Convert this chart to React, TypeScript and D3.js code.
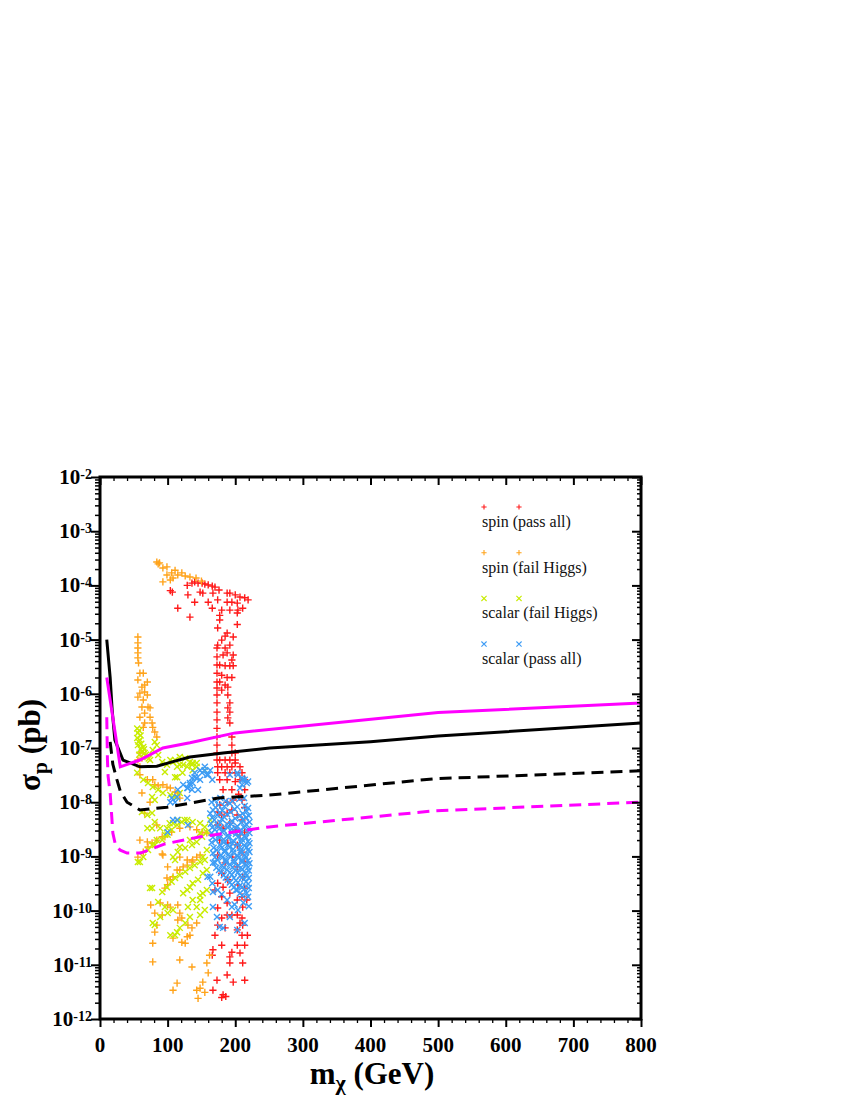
import * as d3 from "d3";
import { useEffect, useRef } from "react";

const plot = { left: 100, right: 641, top: 477, bottom: 1019 };

const massTicks = [0, 100, 200, 300, 400, 500, 600, 700, 800];
const sigmaExponents = [-2, -3, -4, -5, -6, -7, -8, -9, -10, -11, -12];
const legendLabels = ["spin (pass all)", "spin (fail Higgs)", "scalar (fail Higgs)", "scalar (pass all)"];
const seriesColors = ["#ff1a1a", "#ffa31a", "#c8ec00", "#3d9cf5"];

// [mass GeV, sigma pb]
const limitSolidBlack = [
  [10, 1e-5], [15, 2e-6], [18, 5e-7], [22, 1.4e-7], [34, 6e-8], [59, 4.5e-8], [84, 4.6e-8],
  [108, 5.6e-8], [133, 6.8e-8], [182, 8.1e-8], [251, 1e-7], [400, 1.31e-7], [500, 1.66e-7], [800, 2.9e-7],
];
const limitSolidMagenta = [
  [10, 2e-6], [30, 4.5e-8], [59, 6e-8], [93, 1e-7], [133, 1.25e-7], [200, 1.9e-7], [500, 4.5e-7], [800, 6.8e-7],
];
const limitDashedBlack = [
  [15, 1.3e-7], [19, 5e-8], [25, 2.6e-8], [30, 1.6e-8], [40, 1e-8], [59, 7.2e-9], [99, 8.1e-9],
  [133, 9.6e-9], [175, 1.2e-8], [250, 1.35e-8], [493, 2.7e-8], [800, 3.8e-8],
];
const limitDashedMagenta = [
  [10, 3.7e-7], [11, 6e-8], [12, 3e-8], [15, 1.5e-8], [19, 2.7e-9], [23, 1.6e-9], [30, 1.3e-9], [40, 1.15e-9],
  [60, 1.15e-9], [96, 1.7e-9], [148, 2.3e-9], [250, 3.5e-9], [493, 6.9e-9], [800, 1e-8],
];

const spinPassAll = [
  [104, 8e-5], [107, 7.5e-5], [115, 3.8e-5], [133, 2.6e-5], [129, 1.0e-4], [136, 1.1e-4], [140, 1.16e-4],
  [145, 1.1e-4], [151, 1.1e-4], [155, 1.06e-4], [160, 1.02e-4], [166, 9.7e-5], [170, 9.3e-5], [176, 8.2e-5],
  [130, 6.7e-5], [148, 7.5e-5], [152, 7.2e-5], [167, 7.2e-5], [188, 7.2e-5], [192, 7.2e-5], [200, 6.7e-5],
  [207, 6.1e-5], [214, 5.9e-5], [219, 5.4e-5], [140, 4.9e-5], [160, 4.9e-5], [174, 5.4e-5], [188, 4.9e-5],
  [195, 4.9e-5], [203, 4.7e-5], [166, 3.8e-5], [180, 3.5e-5], [192, 3.5e-5], [204, 3.5e-5], [211, 3.8e-5],
  [177, 2.8e-5], [203, 3.1e-5], [177, 2.3e-5], [203, 1.9e-5], [174, 1.64e-5], [188, 1.32e-5], [185, 1.16e-5],
  [197, 1.12e-5], [180, 9.8e-6], [174, 7.9e-6], [192, 7.9e-6], [185, 7.0e-6], [173, 7.0e-6], [173, 4.8e-6],
  [182, 5.2e-6], [188, 5.7e-6], [197, 5.2e-6], [195, 4.2e-6], [173, 3.4e-6], [177, 3.4e-6], [185, 3.3e-6],
  [192, 3.3e-6], [197, 3.3e-6], [173, 2.4e-6], [180, 2.2e-6], [188, 2.0e-6], [195, 2.0e-6], [173, 1.65e-6],
  [177, 1.65e-6], [185, 1.45e-6], [189, 1.33e-6], [173, 1.28e-6], [180, 1.17e-6], [173, 9.5e-7], [189, 9.5e-7],
  [192, 6.8e-7], [189, 5.5e-7], [192, 4.6e-7], [189, 3.6e-7], [192, 2.9e-7], [173, 6.8e-7], [173, 4.6e-7],
  [173, 3.3e-7], [173, 2.3e-7], [173, 1.6e-7], [173, 1.13e-7], [173, 8.1e-8], [173, 6.0e-8], [195, 1.6e-7],
  [195, 1.13e-7], [195, 8.1e-8], [200, 8.1e-8], [174, 4.5e-8], [180, 4.5e-8], [188, 4.5e-8], [195, 4.5e-8],
  [200, 5.3e-8], [174, 3.5e-8], [185, 3.5e-8], [192, 3.5e-8], [200, 3.5e-8], [177, 2.6e-8], [188, 2.6e-8],
  [200, 2.4e-8], [182, 1.7e-8], [195, 1.7e-8], [177, 8.9e-9], [188, 1.0e-8], [197, 1.1e-8], [174, 6.6e-9],
  [177, 6e-8], [185, 6e-8], [192, 6e-8], [200, 6e-8], [207, 4.5e-8], [210, 3.5e-8], [214, 2.6e-8],
  [207, 2.6e-8], [214, 1.7e-8], [205, 1.4e-8], [210, 1.1e-8], [214, 8e-9],
  [180, 5.8e-9], [188, 6.3e-9], [195, 7.2e-9], [203, 5.8e-9], [210, 4.7e-9], [174, 3.8e-9], [182, 3.3e-9],
  [192, 4.1e-9], [200, 3.1e-9], [207, 2.5e-9], [214, 2.8e-9], [177, 2.0e-9], [189, 1.77e-9], [203, 1.62e-9],
  [174, 1.06e-9], [196, 9.7e-10], [210, 1.2e-9], [185, 7.6e-10], [203, 6.4e-10], [214, 7.9e-10],
  [180, 4.9e-10], [174, 3.2e-10], [182, 2.7e-10], [170, 2.4e-10], [192, 2.1e-10], [180, 1.8e-10],
  [203, 1.57e-10], [188, 1.38e-10], [211, 1.16e-10], [189, 3.7e-10], [211, 4.2e-10], [204, 3.0e-10],
  [214, 2.6e-10], [210, 1.8e-10], [217, 1.57e-10], [174, 1.12e-10], [188, 8.3e-11], [195, 8.3e-11],
  [203, 8.3e-11], [210, 7.3e-11], [180, 7.3e-11], [174, 5.4e-11], [207, 5.9e-11], [211, 5.4e-11],
  [170, 3.5e-11], [185, 4.8e-11], [203, 4.4e-11], [210, 3.5e-11], [218, 3.5e-11], [180, 2.3e-11],
  [203, 2.3e-11], [214, 2.3e-11], [167, 1.9e-11], [195, 1.7e-11], [207, 1.65e-11], [166, 1.5e-11],
  [192, 1.4e-11], [192, 1.08e-11], [211, 1.08e-11], [188, 6.5e-12], [214, 5.2e-12], [197, 4.8e-12],
  [173, 5.2e-12], [167, 3.4e-12], [182, 2.8e-12], [180, 2.5e-12], [186, 2.6e-12],
];

const spinFailHiggs = [
  [84, 2.7e-4], [86, 2.5e-4], [88, 2.6e-4], [93, 2.1e-4], [99, 2.2e-4], [106, 1.7e-4], [111, 1.9e-4],
  [115, 1.56e-4], [121, 1.7e-4], [126, 1.49e-4], [133, 1.43e-4], [142, 1.37e-4], [150, 1.2e-4], [99, 1.56e-4],
  [104, 1.26e-4], [108, 1.37e-4], [93, 1.16e-4],
  [56, 1.12e-5], [56, 8.7e-6], [56, 7.0e-6], [56, 5.7e-6], [56, 4.6e-6], [57, 3.7e-6], [59, 2.4e-6],
  [64, 2.4e-6], [56, 1.8e-6], [70, 1.65e-6], [62, 1.33e-6], [66, 1.45e-6], [66, 1.08e-6], [59, 1.03e-6],
  [56, 8.7e-7], [64, 7.7e-7], [70, 9.5e-7], [62, 5.7e-7], [71, 5.7e-7], [74, 5.5e-7], [66, 4.4e-7],
  [74, 3.7e-7], [59, 3.7e-7], [77, 2.9e-7], [78, 2.4e-7], [64, 2.4e-7], [66, 2.9e-7], [81, 1.97e-7],
  [84, 1.6e-7], [59, 8.1e-8], [62, 6.5e-8], [56, 6.0e-8], [59, 4.5e-8],
  [59, 3.2e-8], [70, 2.6e-8], [78, 2.6e-8], [81, 2.1e-8], [86, 2.0e-8], [93, 2.1e-8], [99, 1.9e-8],
  [104, 1.83e-8], [111, 1.54e-8], [115, 1.48e-8], [118, 1.19e-8], [62, 1.48e-8], [74, 1.0e-8], [66, 6.3e-9],
  [84, 3.8e-9], [59, 2.0e-9], [70, 1.85e-9], [77, 1.77e-9], [84, 2.0e-9], [92, 2.3e-9], [96, 2.3e-9],
  [106, 2.8e-9], [118, 3.3e-9], [133, 3.5e-9], [143, 3.1e-9], [151, 2.8e-9], [158, 2.7e-9],
  [92, 1.11e-9], [100, 6.4e-10], [118, 9.7e-10], [129, 8.6e-10], [137, 8.6e-10], [143, 9.7e-10],
  [148, 1.06e-9], [114, 5.6e-10], [123, 6.4e-10], [108, 4.2e-10], [104, 3.7e-10], [96, 2.6e-10],
  [100, 3.0e-10], [56, 9.7e-10], [64, 1.2e-9], [71, 1.49e-9], [93, 1.06e-9], [99, 4.0e-10],
  [118, 5.6e-10], [129, 6.9e-10], [136, 7.9e-10],
  [75, 1.27e-10], [89, 1.38e-10], [100, 1.27e-10], [115, 1.27e-10], [92, 8.3e-11], [118, 9.0e-11],
  [121, 7.3e-11], [84, 5.4e-11], [115, 6.7e-11], [130, 5.4e-11], [136, 4.8e-11], [143, 5.9e-11],
  [133, 3.5e-11], [129, 3.3e-11], [78, 2.5e-11], [126, 2.5e-11], [81, 4.0e-11], [108, 3.1e-11],
  [121, 2.6e-11], [78, 1.13e-11], [104, 1.16e-10], [81, 9.0e-11],
  [118, 1.23e-11], [162, 1.5e-11], [158, 1.08e-11], [136, 9.1e-12], [160, 7.1e-12], [114, 4.6e-12],
  [152, 4.8e-12], [148, 3.7e-12], [108, 3.4e-12], [145, 2.4e-12], [155, 3.1e-12], [143, 3.4e-12],
];

const scalarFailHiggs = [
  [55, 2.3e-7], [56, 1.89e-7], [55, 1.53e-7], [59, 1.4e-7], [56, 1.13e-7], [64, 1.04e-7], [62, 8.4e-8],
  [58, 2.1e-7], [60, 1.7e-7], [57, 1.3e-7], [61, 1.2e-7], [65, 9.5e-8], [68, 7.5e-8], [72, 6.4e-8],
  [60, 9.5e-8], [58, 7.5e-8],
  [66, 8.1e-8], [70, 6.8e-8], [74, 6.0e-8], [81, 1.29e-7], [84, 1.13e-7], [78, 9.2e-8], [86, 7.4e-8],
  [92, 5.5e-8], [99, 4.9e-8], [104, 6.0e-8], [111, 6.0e-8], [118, 6.8e-8], [126, 6.5e-8], [133, 5.5e-8],
  [137, 5.3e-8], [143, 4.5e-8], [114, 4.5e-8], [123, 4.9e-8], [96, 3.6e-8], [111, 2.9e-8],
  [55, 3.5e-8], [64, 2.6e-8], [71, 2.26e-8], [78, 1.9e-8], [86, 1.7e-8], [93, 1.48e-8], [104, 1.36e-8],
  [111, 1.25e-8], [118, 1.48e-8], [77, 1.25e-8], [81, 1.1e-8], [62, 6.6e-9], [70, 5.8e-9], [77, 6.3e-9],
  [108, 5.5e-8], [118, 4.9e-8], [129, 4.5e-8], [136, 4.9e-8], [143, 5.3e-8], [155, 3.9e-8], [137, 3.9e-8],
  [114, 2.9e-8], [122, 3.5e-8],
  [56, 7.9e-10], [59, 7.9e-10], [64, 9.7e-10], [71, 1.31e-9], [77, 1.62e-9], [81, 1.62e-9], [84, 2.0e-9],
  [92, 2.0e-9], [96, 2.5e-9], [100, 2.5e-9], [106, 3.1e-9], [108, 4.1e-9], [114, 3.8e-9], [121, 4.3e-9],
  [129, 4.7e-9], [137, 4.3e-9], [148, 4.1e-9], [155, 3.5e-9], [70, 3.3e-9], [77, 3.3e-9], [89, 3.3e-9],
  [81, 4.3e-9], [103, 4.1e-9], [115, 4.7e-9], [125, 4.7e-9], [99, 3.3e-9], [163, 4.7e-9],
  [108, 9.7e-10], [115, 1.2e-9], [126, 1.43e-9], [136, 1.62e-9], [143, 1.85e-9], [151, 2.3e-9],
  [158, 2.8e-9], [111, 8.6e-10], [118, 1.49e-9], [133, 2.0e-9], [148, 2.7e-9], [152, 9.7e-10], [158, 1.31e-9],
  [74, 2.6e-10], [99, 2.7e-10], [106, 3.4e-10], [111, 4.0e-10], [118, 4.5e-10], [126, 5.2e-10],
  [133, 6.1e-10], [140, 6.9e-10], [148, 7.9e-10], [155, 8.6e-10], [123, 2.1e-10], [129, 2.4e-10],
  [133, 2.7e-10], [137, 3.2e-10], [145, 3.7e-10], [152, 4.9e-10], [158, 5.6e-10],
  [81, 5.4e-11], [89, 7.6e-11], [100, 9.0e-11], [108, 1.03e-10], [143, 1.16e-10], [148, 1.57e-10],
  [152, 2.1e-10], [158, 2.4e-10], [114, 4.0e-11], [118, 4.8e-11], [133, 7.6e-11], [126, 5.9e-11],
  [104, 3.5e-11], [96, 1.16e-10], [86, 1.44e-10], [92, 2.2e-10], [77, 2.6e-10], [78, 5.9e-11],
  [130, 1.16e-10], [137, 1.57e-10], [148, 1.9e-10], [111, 3.5e-11], [148, 8.3e-11], [155, 1.03e-10],
];

const scalarPassAll = [
  [133, 2.26e-8], [143, 2.8e-8], [151, 3.5e-8], [155, 3.9e-8], [160, 3.2e-8], [129, 1.83e-8], [136, 1.7e-8],
  [148, 2.6e-8], [137, 2.26e-8], [166, 2.6e-8], [114, 1.25e-8], [104, 1.0e-8], [111, 1.0e-8], [123, 2.1e-8],
  [114, 4.7e-9], [130, 3.8e-9], [211, 2.6e-8], [217, 2.26e-8], [210, 2.8e-8], [203, 3.5e-8], [192, 3.2e-8],
  [207, 1.83e-8], [140, 3.5e-8], [148, 3.9e-8], [155, 4.5e-8], [163, 3.9e-8], [158, 3.2e-8], [136, 2.8e-8],
  [130, 1.83e-8], [145, 1.7e-8], [204, 3.2e-8], [214, 2.6e-8], [219, 2.4e-8], [210, 2.1e-8], [129, 1.19e-8],
  [115, 1.7e-8], [106, 1.19e-8], [100, 2.8e-9], [108, 4.7e-9], [133, 2.1e-8], [140, 2.9e-8],
  [170, 1.1e-8], [186, 1.05e-8], [206, 1.15e-8], [175, 8.9e-9], [192, 9.5e-9], [214, 8.5e-9],
  [167, 7.2e-9], [181, 7.0e-9], [199, 7.5e-9], [217, 6.8e-9], [173, 5.8e-9], [188, 6.0e-9], [207, 5.6e-9],
  [169, 4.7e-9], [180, 4.9e-9], [195, 4.5e-9], [211, 4.8e-9], [174, 3.8e-9], [188, 3.9e-9], [203, 3.6e-9],
  [216, 3.9e-9], [170, 3.1e-9], [183, 3.0e-9], [195, 3.2e-9], [207, 3.0e-9], [219, 3.2e-9], [176, 2.5e-9],
  [189, 2.45e-9], [201, 2.6e-9], [214, 2.4e-9], [171, 2.0e-9], [183, 2.05e-9], [197, 1.95e-9], [210, 2.05e-9],
  [219, 1.9e-9], [177, 1.62e-9], [189, 1.6e-9], [203, 1.65e-9], [214, 1.58e-9], [173, 1.31e-9], [185, 1.3e-9],
  [197, 1.35e-9], [208, 1.28e-9], [219, 1.33e-9], [179, 1.06e-9], [190, 1.08e-9], [203, 1.04e-9],
  [214, 1.07e-9], [174, 8.6e-10], [186, 8.8e-10], [198, 8.5e-10], [210, 8.7e-10], [219, 8.4e-10],
  [180, 6.9e-10], [192, 7.1e-10], [204, 6.8e-10], [216, 7.0e-10], [176, 5.6e-10], [188, 5.7e-10],
  [200, 5.5e-10], [211, 5.8e-10], [220, 5.5e-10], [183, 4.5e-10], [195, 4.6e-10], [207, 4.4e-10],
  [217, 4.5e-10], [189, 3.7e-10], [201, 3.6e-10], [213, 3.8e-10], [195, 3.0e-10], [207, 2.9e-10],
  [219, 3.1e-10], [201, 2.4e-10], [213, 2.5e-10],
  [165, 1.0e-8], [178, 1.2e-8], [196, 1.05e-8], [213, 1.2e-8], [171, 8.0e-9], [184, 8.4e-9], [203, 8.2e-9],
  [219, 7.8e-9], [163, 6.2e-9], [177, 6.4e-9], [193, 6.6e-9], [211, 6.2e-9], [220, 5.6e-9], [166, 5.2e-9],
  [184, 5.3e-9], [200, 5.0e-9], [216, 5.2e-9], [164, 4.0e-9], [178, 4.2e-9], [194, 3.9e-9], [209, 4.2e-9],
  [221, 4.3e-9], [166, 3.4e-9], [177, 3.3e-9], [189, 3.4e-9], [201, 3.35e-9], [213, 3.4e-9], [165, 2.7e-9],
  [181, 2.8e-9], [195, 2.75e-9], [208, 2.7e-9], [221, 2.7e-9], [167, 2.25e-9], [177, 2.2e-9], [190, 2.2e-9],
  [204, 2.25e-9], [216, 2.2e-9], [165, 1.8e-9], [183, 1.8e-9], [196, 1.75e-9], [209, 1.8e-9], [221, 1.75e-9],
  [168, 1.45e-9], [180, 1.45e-9], [192, 1.47e-9], [207, 1.45e-9], [217, 1.48e-9], [167, 1.15e-9],
  [184, 1.2e-9], [197, 1.18e-9], [209, 1.17e-9], [221, 1.2e-9], [170, 9.6e-10], [181, 9.5e-10],
  [193, 9.7e-10], [205, 9.4e-10], [216, 9.6e-10], [170, 7.7e-10], [186, 7.8e-10], [198, 7.6e-10],
  [210, 7.8e-10], [221, 7.5e-10], [172, 6.2e-10], [183, 6.2e-10], [196, 6.3e-10], [208, 6.2e-10],
  [219, 6.3e-10], [179, 5.0e-10], [192, 5.0e-10], [204, 5.1e-10], [215, 4.9e-10], [186, 4.1e-10],
  [198, 4.0e-10], [210, 4.1e-10], [220, 4.0e-10], [192, 3.3e-10], [204, 3.3e-10], [216, 3.4e-10],
  [198, 2.7e-10], [210, 2.7e-10], [220, 2.6e-10], [207, 2.1e-10], [180, 2.0e-10], [219, 1.8e-10],
  [212, 1.4e-10], [199, 1.3e-10], [220, 1.2e-10],
  [163, 4.2e-10], [166, 3.2e-10], [174, 2.4e-10], [188, 1.57e-10], [195, 1.16e-10], [204, 1.03e-10],
  [182, 4.8e-11], [177, 5.0e-11], [214, 5.9e-11], [167, 2.2e-10], [167, 7.6e-10], [159, 4.2e-10],
  [192, 7.6e-11], [203, 4.4e-11], [173, 7.6e-11], [167, 1.16e-10], [203, 2.4e-10], [210, 1.9e-10],
  [217, 2.1e-10],
];

const pointSeries = [
  { key: "spinPass", data: spinPassAll, marker: "plus", color: seriesColors[0] },
  { key: "spinFail", data: spinFailHiggs, marker: "plus", color: seriesColors[1] },
  { key: "scalarFail", data: scalarFailHiggs, marker: "cross", color: seriesColors[2] },
  { key: "scalarPass", data: scalarPassAll, marker: "cross", color: seriesColors[3] },
];

const markerPath = (kind, r) =>
  kind === "plus"
    ? `M${-r},0H${r}M0,${-r}V${r}`
    : `M${-r},${-r}L${r},${r}M${-r},${r}L${r},${-r}`;

const App = () => {
  const svgRef = useRef(null);

  useEffect(() => {
    const svg = d3.select(svgRef.current);
    svg.selectAll("*").remove();

    const x = d3.scaleLinear().domain([0, 800]).range([plot.left, plot.right]);
    const y = d3.scaleLog().domain([1e-12, 1e-2]).range([plot.bottom, plot.top]);

    const decades = sigmaExponents.map((e) => Math.pow(10, e));
    const minorY = [];
    sigmaExponents.slice(1).forEach((e) => {
      for (let m = 2; m <= 9; m++) minorY.push(m * Math.pow(10, e));
    });
    const minorX = d3.range(0, 801, 20).filter((v) => v % 100 !== 0);

    // scatter points
    pointSeries.forEach((s) => {
      svg
        .append("g")
        .attr("class", s.key)
        .selectAll("path")
        .data(s.data)
        .join("path")
        .attr("transform", (d) => `translate(${x(d[0])},${y(d[1])})`)
        .attr("d", markerPath(s.marker, s.marker === "plus" ? 3.6 : 3))
        .attr("fill", "none")
        .attr("stroke", s.color)
        .attr("stroke-width", 1.4);
    });

    // limit curves
    const line = d3
      .line()
      .x((d) => x(d[0]))
      .y((d) => y(d[1]));
    const curves = [
      { data: limitSolidBlack, color: "#000", dash: null },
      { data: limitSolidMagenta, color: "#ff00ff", dash: null },
      { data: limitDashedBlack, color: "#000", dash: "12,7" },
      { data: limitDashedMagenta, color: "#ff00ff", dash: "12,7" },
    ];
    curves.forEach((c) => {
      svg
        .append("path")
        .attr("d", line(c.data))
        .attr("fill", "none")
        .attr("stroke", c.color)
        .attr("stroke-width", 3)
        .attr("stroke-dasharray", c.dash);
    });

    // axes: ticks out on left/bottom, in on top/right
    const noLabel = () => "";
    const strip = (g) => g.select(".domain").remove();
    const addAxis = (axis, tx, ty, w) =>
      svg
        .append("g")
        .attr("transform", `translate(${tx},${ty})`)
        .call(axis.tickFormat(noLabel))
        .call(strip)
        .call((g) => g.selectAll("line").attr("stroke-width", w));

    addAxis(d3.axisLeft(y).tickValues(decades).tickSize(9), plot.left, 0, 2);
    addAxis(d3.axisLeft(y).tickValues(minorY).tickSize(5), plot.left, 0, 1.5);
    addAxis(d3.axisLeft(y).tickValues(decades).tickSize(9), plot.right, 0, 2);
    addAxis(d3.axisLeft(y).tickValues(minorY).tickSize(4), plot.right, 0, 1.5);
    addAxis(d3.axisBottom(x).tickValues(massTicks).tickSize(8), 0, plot.bottom, 2);
    addAxis(d3.axisBottom(x).tickValues(minorX).tickSize(4), 0, plot.bottom, 1.3);
    addAxis(d3.axisBottom(x).tickValues(massTicks).tickSize(8), 0, plot.top, 2);
    addAxis(d3.axisBottom(x).tickValues(minorX).tickSize(4), 0, plot.top, 1.3);

    svg
      .append("rect")
      .attr("x", plot.left)
      .attr("y", plot.top)
      .attr("width", plot.right - plot.left)
      .attr("height", plot.bottom - plot.top)
      .attr("fill", "none")
      .attr("stroke", "#000")
      .attr("stroke-width", 3);

    const font = "'Liberation Serif', 'Times New Roman', serif";

    // x tick labels
    svg
      .append("g")
      .selectAll("text")
      .data(massTicks)
      .join("text")
      .attr("x", (d) => x(d))
      .attr("y", plot.bottom + 33)
      .attr("text-anchor", "middle")
      .attr("font-family", font)
      .attr("font-weight", "bold")
      .attr("font-size", 21)
      .text((d) => d);

    // y tick labels 10^n
    svg
      .append("g")
      .selectAll("text")
      .data(sigmaExponents)
      .join("text")
      .attr("x", 92)
      .attr("y", (d) => y(Math.pow(10, d)) + 7)
      .attr("text-anchor", "end")
      .attr("font-family", font)
      .attr("font-weight", "bold")
      .attr("font-size", 21)
      .each(function (d) {
        const t = d3.select(this);
        t.append("tspan").text("10");
        t.append("tspan").attr("font-size", 14).attr("dy", -5).text(String(d));
      });

    // axis titles
    const xt = svg
      .append("text")
      .attr("x", 372)
      .attr("y", 1084)
      .attr("text-anchor", "middle")
      .attr("font-family", font)
      .attr("font-weight", "bold")
      .attr("font-size", 31);
    xt.append("tspan").text("m");
    xt.append("tspan").attr("font-size", 22).attr("dy", 6).text("χ");
    xt.append("tspan").attr("dy", -6).text(" (GeV)");

    const yt = svg
      .append("text")
      .attr("transform", `translate(40,745) rotate(-90)`)
      .attr("text-anchor", "middle")
      .attr("font-family", font)
      .attr("font-weight", "bold")
      .attr("font-size", 31);
    yt.append("tspan").text("σ");
    yt.append("tspan").attr("font-size", 22).attr("dy", 7).text("p");
    yt.append("tspan").attr("dy", -7).text(" (pb)");

    // legend
    const legend = svg
      .append("g")
      .selectAll("g")
      .data(pointSeries)
      .join("g")
      .attr("transform", (d, i) => `translate(482,${507 + i * 45.7})`);
    legend
      .selectAll("path")
      .data((d) => [d, d])
      .join("path")
      .attr("transform", (d, i) => `translate(${2 + i * 35},0)`)
      .attr("d", (d) => markerPath(d.marker, 2.6))
      .attr("fill", "none")
      .attr("stroke", (d) => d.color)
      .attr("stroke-width", 1.1);
    legend
      .append("text")
      .attr("x", 0)
      .attr("y", 20)
      .attr("font-family", font)
      .attr("font-size", 16)
      .attr("fill", "#111")
      .text((d, i) => legendLabels[i]);
  }, []);

  return (
    <svg
      ref={svgRef}
      width={850}
      height={1100}
      style={{ position: "absolute", left: 0, top: 0, background: "#fff" }}
    />
  );
};

export default App;
